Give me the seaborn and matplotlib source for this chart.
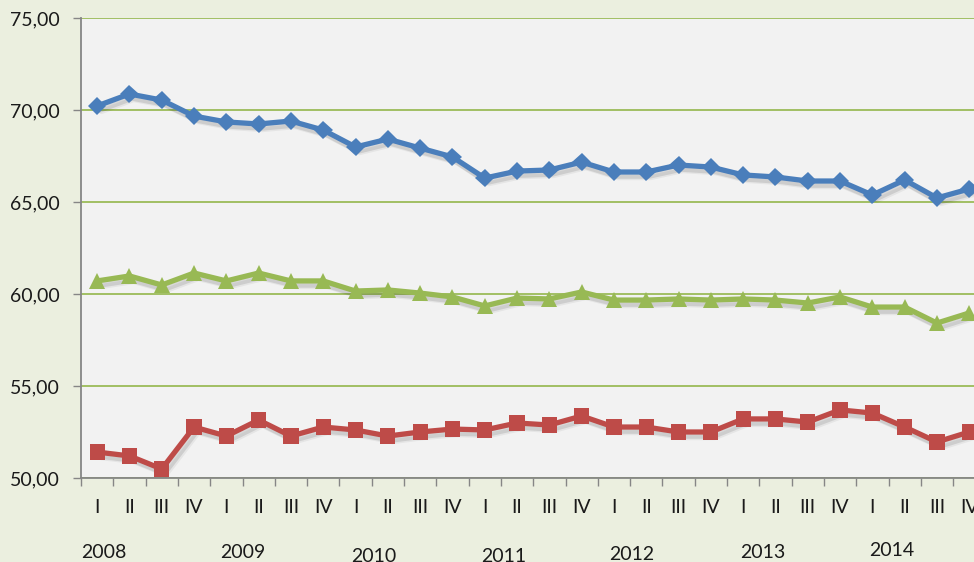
import numpy as np
import pandas as pd
import seaborn as sns
import matplotlib
matplotlib.use("Agg")
import matplotlib.pyplot as plt
import matplotlib.patheffects as pe
from matplotlib.ticker import FixedLocator, FuncFormatter
import matplotlib.transforms as mtransforms

quarters = ["I", "II", "III", "IV"] * 7
years = ["2008", "2009", "2010", "2011", "2012", "2013", "2014"]

blue = [70.22, 70.87, 70.54, 69.67, 69.35, 69.24, 69.40, 68.91, 67.99, 68.42,
        67.93, 67.45, 66.30, 66.68, 66.74, 67.17, 66.63, 66.63, 67.01, 66.90,
        66.47, 66.36, 66.14, 66.14, 65.38, 66.20, 65.22, 65.71]
green = [60.71, 60.98, 60.49, 61.14, 60.71, 61.14, 60.71, 60.71, 60.16, 60.22,
         60.05, 59.84, 59.35, 59.78, 59.73, 60.11, 59.67, 59.67, 59.73, 59.67,
         59.73, 59.67, 59.51, 59.84, 59.29, 59.29, 58.42, 58.97]
red = [51.41, 51.20, 50.49, 52.77, 52.28, 53.15, 52.28, 52.77, 52.61, 52.28,
       52.50, 52.66, 52.61, 52.99, 52.88, 53.37, 52.77, 52.77, 52.50, 52.50,
       53.21, 53.21, 53.04, 53.70, 53.53, 52.77, 51.96, 52.50]

sns.set_theme(style="white")
plt.rcParams['font.family'] = ['Lato', 'DejaVu Sans']

fig = plt.figure(figsize=(9.74, 5.62), dpi=100)
fig.patch.set_facecolor("#EBEFDF")
ax = fig.add_axes([81/974, 1-478/562, (985.4-81)/974, (478-18)/562])
ax.set_facecolor("#F2F2F2")

x = np.arange(len(quarters))
shadow = [pe.SimpleLineShadow(offset=(2, -3), shadow_color="black", alpha=0.10),
          pe.SimpleLineShadow(offset=(3, -4), shadow_color="black", alpha=0.05),
          pe.Normal()]
series = [(blue, "#4A7EBB", "D", 9.5), (green, "#98B954", "^", 11.5), (red, "#BE4B48", "s", 11)]
for vals, col, mk, ms in series:
    df = pd.DataFrame({"x": x, "y": vals})
    sns.lineplot(data=df, x="x", y="y", ax=ax, color=col, linewidth=3.8,
                 marker=mk, markersize=ms, markeredgecolor=col, markeredgewidth=0,
                 path_effects=shadow, zorder=3)

ax.set_xlim(-0.5, len(quarters) - 0.5)
ax.set_ylim(50, 75)
ax.set_xlabel("")
ax.set_ylabel("")

ax.set_yticks([50, 55, 60, 65, 70, 75])
ax.yaxis.set_major_formatter(FuncFormatter(lambda v, p: f"{v:.2f}".replace(".", ",")))
ax.yaxis.grid(True, color="#9BBB59", linewidth=1.3)
ax.xaxis.grid(False)
ax.set_axisbelow(True)

ax.set_xticks(x)
ax.set_xticklabels(quarters)
ax.xaxis.set_minor_locator(FixedLocator(np.arange(-0.5, len(quarters), 1.0)))
ax.tick_params(axis="x", which="major", length=0, pad=15, labelsize=14, colors="#1a1a1a")
ax.tick_params(axis="x", which="minor", length=6, width=1, color="#868686", direction="out", bottom=True)
ax.tick_params(axis="y", which="major", length=6, width=1, color="#868686", direction="out", left=True,
               labelsize=14, labelcolor="#1a1a1a", pad=9)

for s in ["top", "right"]:
    ax.spines[s].set_visible(False)
for s in ["left", "bottom"]:
    ax.spines[s].set_color("#868686")
    ax.spines[s].set_linewidth(1.3)

year_x = [0.2, 4.5, 8.55, 12.6, 16.55, 20.6, 24.6]
year_y = [553, 553, 556, 556, 555, 552, 550]
trans = mtransforms.blended_transform_factory(ax.transData, fig.transFigure)
for yr, xx, yy in zip(years, year_x, year_y):
    ax.text(xx, 1 - yy/562, yr, transform=trans, ha="center", va="center",
            fontsize=14, color="#1a1a1a", clip_on=False)

fig.savefig("out.png", dpi=100, facecolor=fig.get_facecolor())
